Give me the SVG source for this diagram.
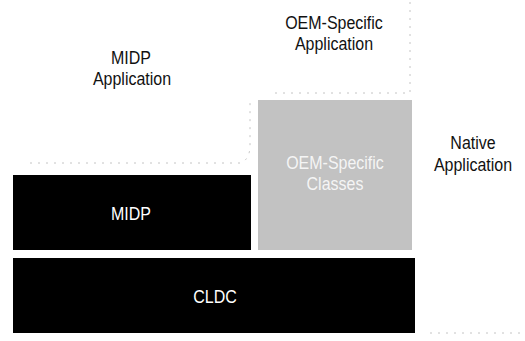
<svg xmlns="http://www.w3.org/2000/svg" width="525" height="341" viewBox="0 0 525 341">
<style>
.lbl{font-family:"Liberation Sans",Arial,sans-serif;font-size:16px;fill:#111;text-anchor:middle}
.inv{font-family:"Liberation Sans",Arial,sans-serif;font-size:16px;fill:#fff;text-anchor:middle}
.blk{fill:#000}
.guide{fill:none;stroke:#c4c4c4;stroke-width:1;stroke-dasharray:2 6}
</style>
<rect width="525" height="341" fill="#fff"/>
<g id="guides">
<path class="guide" d="M30 163 H240 Q250 160 250 145 V100"/>
<path class="guide" d="M275 93 H410 V0"/>
<path class="guide" d="M430 333 H522"/>
</g>
<g id="midp-app"><text class="lbl" transform="translate(131,64) scale(1,1.12)">MIDP</text><text class="lbl" transform="translate(132,85) scale(1,1.12)">Application</text></g>
<g id="oem-app"><text class="lbl" transform="translate(334,29) scale(1,1.12)">OEM-Specific</text><text class="lbl" transform="translate(334,50) scale(1,1.12)">Application</text></g>
<g id="native-app"><text class="lbl" transform="translate(473,149) scale(1,1.12)">Native</text><text class="lbl" transform="translate(473,171) scale(1,1.12)">Application</text></g>
<g id="midp"><rect class="blk" x="13" y="175" width="238" height="75"/><text class="inv" transform="translate(131,220) scale(1,1.15)">MIDP</text></g>
<g id="oem-classes"><rect x="258" y="100" width="154" height="150" fill="#c2c2c2"/><text class="inv" fill-opacity="0.85" transform="translate(335,169) scale(1,1.12)">OEM-Specific</text><text class="inv" fill-opacity="0.85" transform="translate(335,190) scale(1,1.12)">Classes</text></g>
<g id="cldc"><rect class="blk" x="13" y="258" width="402" height="75"/><text class="inv" transform="translate(215,303) scale(1,1.15)">CLDC</text></g>
</svg>
